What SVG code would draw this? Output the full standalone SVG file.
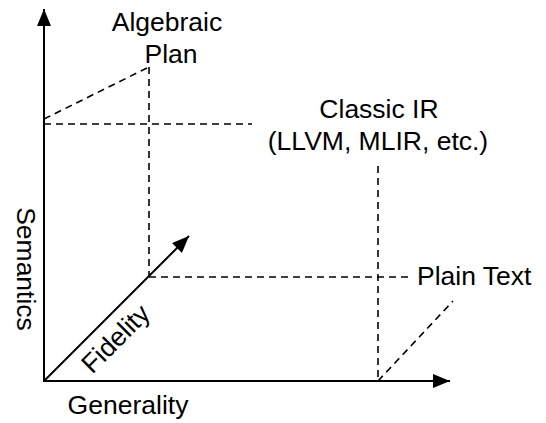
<svg xmlns="http://www.w3.org/2000/svg" width="546" height="423" viewBox="0 0 546 423">
  <style>
    .axis { stroke: #000; stroke-width: 2; fill: none; }
    .guide { stroke: #000; stroke-width: 1.6; fill: none; stroke-dasharray: 7 5; }
    .label { font-family: "Liberation Sans", Arial, Helvetica, sans-serif; font-size: 26.5px; fill: #000; }
  </style>
  <defs>
    <marker id="head" viewBox="0 0 17 14" refX="17" refY="7" markerWidth="17" markerHeight="14" markerUnits="userSpaceOnUse" orient="auto">
      <path d="M0,0 L17,7 L0,14 Z" fill="#000"/>
    </marker>
  </defs>
  <rect width="546" height="423" fill="#fff"/>

  <!-- axes -->
  <g id="axes">
    <line class="axis" x1="44" y1="381" x2="44" y2="9" marker-end="url(#head)"/>
    <line class="axis" x1="43" y1="381" x2="450" y2="381" marker-end="url(#head)"/>
    <line class="axis" x1="44" y1="381" x2="189" y2="236" marker-end="url(#head)"/>
  </g>

  <!-- dashed projection lines -->
  <g id="connectors">
    <line class="guide" x1="44" y1="119" x2="149" y2="67"/>
    <line class="guide" x1="149" y1="67" x2="149" y2="277"/>
    <line class="guide" x1="44" y1="124" x2="252" y2="124"/>
    <line class="guide" x1="378" y1="166" x2="378" y2="381"/>
    <line class="guide" x1="149" y1="277" x2="408" y2="277"/>
    <line class="guide" x1="378" y1="381" x2="453" y2="301"/>
  </g>

  <g id="algebraic-plan">
    <text class="label" x="167" y="31" text-anchor="middle">Algebraic</text>
    <text class="label" x="171" y="63" text-anchor="middle">Plan</text>
  </g>

  <g id="classic-ir">
    <text class="label" x="379" y="118" text-anchor="middle">Classic IR</text>
    <text class="label" x="378" y="150" text-anchor="middle">(LLVM, MLIR, etc.)</text>
  </g>

  <g id="plain-text">
    <text class="label" x="417" y="285">Plain Text</text>
  </g>

  <g id="axis-labels">
    <text class="label" x="128" y="414" text-anchor="middle">Generality</text>
    <text class="label" text-anchor="middle" transform="translate(17 269) rotate(90)">Semantics</text>
    <text class="label" text-anchor="middle" transform="translate(122 345) rotate(-45)">Fidelity</text>
  </g>
</svg>
